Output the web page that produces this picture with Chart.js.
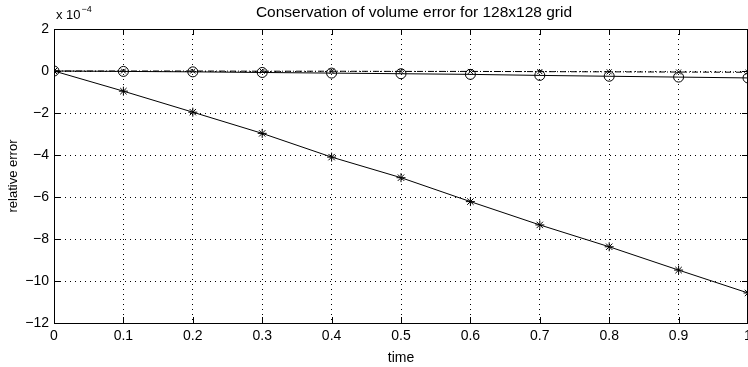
<!DOCTYPE html>
<html>
<head>
<meta charset="utf-8">
<script src="https://cdn.jsdelivr.net/npm/chart.js@4/dist/chart.umd.min.js"></script>
<style>
  html, body { margin: 0; padding: 0; background: #fff; }
  #wrap { width: 748px; height: 367px; }
</style>
</head>
<body>
<div id="wrap"><canvas id="c"></canvas></div>
<script>
// time steps and relative errors (units of 1e-4)
var times = [0, 0.1, 0.2, 0.3, 0.4, 0.5, 0.6, 0.7, 0.8, 0.9, 1];
var starErr = [0, -0.96, -1.96, -2.97, -4.1, -5.08, -6.22, -7.33, -8.37, -9.48, -10.57];
var circleErr = [0, -0.02, -0.04, -0.07, -0.1, -0.13, -0.16, -0.21, -0.25, -0.29, -0.33];
var crossErr = [0, 0, 0, -0.01, -0.01, -0.02, -0.02, -0.03, -0.04, -0.05, -0.06];
var xTickLabels = ['0', '0.1', '0.2', '0.3', '0.4', '0.5', '0.6', '0.7', '0.8', '0.9', '1'];
var yTicks = [-12, -10, -8, -6, -4, -2, 0, 2];
var titleText = 'Conservation of volume error for 128x128 grid';

var FONT = '"Liberation Sans", Arial, Helvetica, sans-serif';

function pts(ys) {
    return times.map(function (t, i) { return { x: t, y: ys[i] }; });
}

// axes box, inner ticks, title and the exponent label, MATLAB style
var matlabAxes = {
    id: 'matlabAxes',
    afterDraw: function (chart) {
        var ctx = chart.ctx, a = chart.chartArea;
        var xs = chart.scales.x, ys = chart.scales.y;
        ctx.save();
        ctx.strokeStyle = '#000';
        ctx.lineWidth = 1;
        ctx.strokeRect(a.left + 0.5, a.top + 0.5, a.right - a.left - 1, a.bottom - a.top);
        ctx.beginPath();
        times.forEach(function (t) {
            var px = Math.round(xs.getPixelForValue(t)) + 0.5;
            ctx.moveTo(px, a.bottom); ctx.lineTo(px, a.bottom - 6);
            ctx.moveTo(px, a.top); ctx.lineTo(px, a.top + 6);
        });
        yTicks.forEach(function (v) {
            var py = Math.round(ys.getPixelForValue(v)) + 0.5;
            ctx.moveTo(a.left, py); ctx.lineTo(a.left + 6, py);
            ctx.moveTo(a.right, py); ctx.lineTo(a.right - 6, py);
        });
        ctx.stroke();
        ctx.fillStyle = '#000';
        // the original axes ran a bit past the right edge, so the title sits right of centre
        ctx.textAlign = 'center';
        ctx.textBaseline = 'middle';
        ctx.font = '15.5px ' + FONT;
        ctx.fillText(titleText, (a.left + a.right) / 2 + 13, a.top - 16);
        ctx.textAlign = 'left';
        ctx.textBaseline = 'alphabetic';
        ctx.font = '13px ' + FONT;
        ctx.fillText('x 10', a.left + 2, a.top - 10);
        var w = ctx.measureText('x 10').width;
        ctx.font = '9px ' + FONT;
        ctx.fillText('\u22124', a.left + 3 + w, a.top - 17);
        ctx.restore();
    }
};

new Chart(document.getElementById('c'), {
    type: 'line',
    data: {
        datasets: [{
            label: 'star',
            data: pts(starErr),
            borderColor: '#000',
            borderWidth: 1,
            pointStyle: 'star',
            pointRadius: 4.5,
            pointBorderColor: '#000',
            pointBorderWidth: 1,
            backgroundColor: 'transparent'
        }, {
            label: 'circle',
            data: pts(circleErr),
            borderColor: '#000',
            borderWidth: 1,
            pointStyle: 'circle',
            pointRadius: 5,
            pointBorderColor: '#000',
            pointBorderWidth: 1,
            backgroundColor: 'transparent',
            pointBackgroundColor: 'transparent'
        }, {
            label: 'cross',
            data: pts(crossErr),
            borderColor: '#000',
            borderWidth: 1,
            borderDash: [6, 2, 1, 2],
            pointStyle: 'crossRot',
            pointRadius: 3.5,
            pointBorderColor: '#000',
            pointBorderWidth: 1,
            backgroundColor: 'transparent'
        }]
    },
    options: {
        responsive: true,
        maintainAspectRatio: false,
        animation: false,
        layout: { autoPadding: false, padding: { top: 29, left: 0, right: 0, bottom: 0 } },
        plugins: {
            legend: { display: false },
            tooltip: { enabled: false },
            title: { display: false }
        },
        scales: {
            x: {
                type: 'linear',
                min: 0,
                max: 1,
                afterBuildTicks: function (s) {
                    s.ticks = times.map(function (t) { return { value: t }; });
                },
                afterFit: function (s) {
                    s.height = 44;
                    s.paddingLeft = 0;
                    s.paddingRight = 0;
                },
                ticks: {
                    color: '#000',
                    padding: 5,
                    maxRotation: 0,
                    autoSkip: false,
                    font: { family: FONT, size: 14 },
                    callback: function (v, i) { return xTickLabels[i]; }
                },
                grid: {
                    color: '#000',
                    lineWidth: 1,
                    drawTicks: false
                },
                border: { display: true, color: '#000', dash: [1, 4] },
                title: {
                    display: true,
                    text: 'time',
                    color: '#000',
                    font: { family: FONT, size: 14 },
                    padding: { top: 0, bottom: 0 }
                }
            },
            y: {
                type: 'linear',
                min: -12,
                max: 2,
                afterBuildTicks: function (s) {
                    s.ticks = yTicks.map(function (v) { return { value: v }; });
                },
                afterFit: function (s) { s.width = 54; },
                ticks: {
                    color: '#000',
                    padding: 5,
                    font: { family: FONT, size: 14 },
                    callback: function (v) { return v < 0 ? '\u2212' + Math.abs(v) : String(v); }
                },
                grid: {
                    color: '#000',
                    lineWidth: 1,
                    drawTicks: false
                },
                border: { display: true, color: '#000', dash: [1, 4] },
                title: {
                    display: true,
                    text: 'relative error',
                    color: '#000',
                    font: { family: FONT, size: 13 },
                    padding: { top: 6, bottom: 0 }
                }
            }
        }
    },
    plugins: [matlabAxes]
});
</script>
</body>
</html>
